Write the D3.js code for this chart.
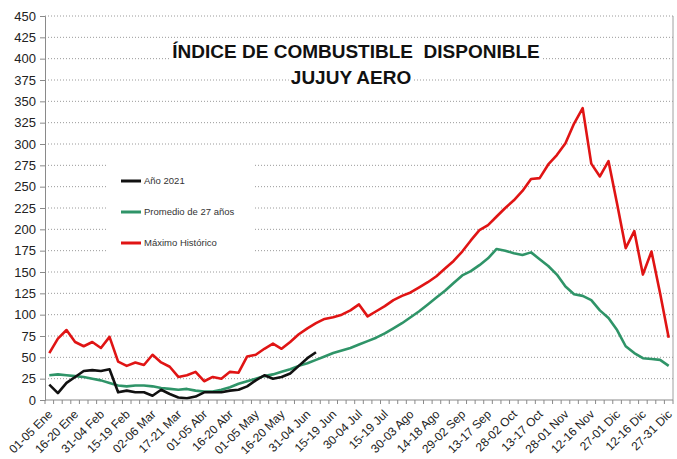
<!DOCTYPE html>
<html>
<head>
<meta charset="utf-8">
<script src="https://cdn.jsdelivr.net/npm/d3@7"></script>
<style>
  body { margin: 0; background: #fff; }
  svg { display: block; font-family: "Liberation Sans", Arial, sans-serif; }
</style>
</head>
<body>
<svg id="chart" width="677" height="459"></svg>
<script>
// pentadas del año (73)
const categories = [
  '01-05 Ene', '06-10 Ene', '11-15 Ene', '16-20 Ene', '21-25 Ene', '26-30 Ene',
  '31-04 Feb', '05-09 Feb', '10-14 Feb', '15-19 Feb', '20-24 Feb', '25-01 Mar',
  '02-06 Mar', '07-11 Mar', '12-16 Mar', '17-21 Mar', '22-26 Mar', '27-31 Mar',
  '01-05 Abr', '06-10 Abr', '11-15 Abr', '16-20 Abr', '21-25 Abr', '26-30 Abr',
  '01-05 May', '06-10 May', '11-15 May', '16-20 May', '21-25 May', '26-30 May',
  '31-04 Jun', '05-09 Jun', '10-14 Jun', '15-19 Jun', '20-24 Jun', '25-29 Jun',
  '30-04 Jul', '05-09 Jul', '10-14 Jul', '15-19 Jul', '20-24 Jul', '25-29 Jul',
  '30-03 Ago', '04-08 Ago', '09-13 Ago', '14-18 Ago', '19-23 Ago', '24-28 Ago',
  '29-02 Sep', '03-07 Sep', '08-12 Sep', '13-17 Sep', '18-22 Sep', '23-27 Sep',
  '28-02 Oct', '03-07 Oct', '08-12 Oct', '13-17 Oct', '18-22 Oct', '23-27 Oct',
  '28-01 Nov', '02-06 Nov', '07-11 Nov', '12-16 Nov', '17-21 Nov', '22-26 Nov',
  '27-01 Dic', '02-06 Dic', '07-11 Dic', '12-16 Dic', '17-21 Dic', '22-26 Dic',
  '27-31 Dic'
];

// solo se rotula una de cada tres pentadas
const tickLabels = categories.filter((d, i) => i % 3 === 0);
const yTicks = d3.range(0, 451, 25);

const anio2021 = [18, 8, 20, 27, 34, 35, 34, 36, 9, 11, 9, 9, 5, 12, 7, 3, 2, 4, 9, 9,
  9, 11, 12, 16, 23, 29, 25, 27, 31, 40, 49, 56];

const promedio = [29, 30, 29, 28, 27, 25, 23, 20, 17, 16, 17, 17, 16, 14, 13, 12, 13, 11, 10, 10,
  12, 15, 19, 22, 25, 28, 30, 33, 36, 40, 43, 47, 51, 55, 58, 61, 65, 69, 73, 78,
  84, 90, 97, 104, 112, 120, 128, 137, 146, 151, 158, 166, 177, 175, 172, 170, 173, 165, 157, 147,
  133, 124, 122, 117, 105, 96, 82, 63, 55, 49, 48, 47, 40];

const maximo = [55, 72, 82, 68, 63, 68, 61, 74, 45, 40, 44, 41, 53, 44, 39, 27, 29, 33, 22, 27,
  25, 33, 32, 51, 53, 60, 66, 60, 68, 77, 84, 90, 95, 97, 100, 105, 112, 98, 104, 110,
  117, 122, 126, 132, 138, 145, 154, 163, 174, 187, 199, 205, 215, 225, 234, 245, 259, 260, 276, 287,
  301, 324, 342, 277, 262, 280, 230, 178, 198, 147, 174, 125, 73];

const seriesNames = ['Año 2021', 'Promedio de 27 años', 'Máximo Histórico'];
const seriesColors = ['#111111', '#2f9468', '#e01414'];

const titleLines = ['ÍNDICE DE COMBUSTIBLE  DISPONIBLE', 'JUJUY AERO'];

const plot = { left: 45, right: 673, top: 16, bottom: 400 };
const svg = d3.select('#chart');

const x = d3.scaleBand()
  .domain(categories)
  .range([plot.left, plot.right])
  .padding(0);
const y = d3.scaleLinear()
  .domain([0, 450])
  .range([plot.bottom, plot.top]);
const cx = (c) => x(c) + x.bandwidth() / 2;

// líneas de grilla punteadas
svg.append('g')
  .selectAll('line')
  .data(yTicks.filter(d => d > 0))
  .enter().append('line')
    .attr('x1', plot.left)
    .attr('x2', plot.right)
    .attr('y1', d => y(d))
    .attr('y2', d => y(d))
    .attr('stroke', '#9a9a9a')
    .attr('stroke-width', 1)
    .attr('stroke-dasharray', '1,2');

// título con fondo blanco por renglón
const title = svg.append('g');
titleLines.forEach((t, i) => {
  const g = title.append('g');
  const txt = g.append('text')
    .attr('x', i === 0 ? 356 : 351)
    .attr('y', i === 0 ? 58 : 84)
    .attr('text-anchor', 'middle')
    .style('font-size', '19px')
    .style('font-weight', 'bold')
    .style('white-space', 'pre')
    .attr('fill', '#111')
    .text(t);
  const bb = txt.node().getBBox();
  g.insert('rect', 'text')
    .attr('x', bb.x - 2)
    .attr('y', bb.y)
    .attr('width', bb.width + 4)
    .attr('height', bb.height)
    .attr('fill', '#fff');
});

// leyenda
const legend = svg.append('g');
legend.append('rect')
  .attr('x', 107).attr('y', 150)
  .attr('width', 148).attr('height', 112)
  .attr('fill', '#fff');
const items = legend.selectAll('g')
  .data(seriesNames)
  .enter().append('g')
    .attr('transform', (d, i) => `translate(121, ${181 + i * 31})`);
items.append('line')
  .attr('x1', 0).attr('x2', 20)
  .attr('stroke', (d, i) => seriesColors[i])
  .attr('stroke-width', 3);
items.append('text')
  .attr('x', 23)
  .attr('dy', '0.35em')
  .style('font-size', '9.5px')
  .attr('fill', '#333')
  .text(d => d);

// series
const line = d3.line()
  .x((d, i) => cx(categories[i]))
  .y(d => y(d));

svg.append('g')
  .selectAll('path')
  .data([promedio, maximo, anio2021])
  .enter().append('path')
    .attr('d', line)
    .attr('fill', 'none')
    .attr('stroke', (d, i) => [seriesColors[1], seriesColors[2], seriesColors[0]][i])
    .attr('stroke-width', 2.6)
    .attr('stroke-linejoin', 'round');

// eje Y
const yAxis = svg.append('g')
  .attr('transform', `translate(${plot.left},0)`)
  .call(d3.axisLeft(y).tickValues(yTicks).tickSize(5).tickPadding(4));
yAxis.select('.domain').attr('stroke', '#8a8a8a');
yAxis.selectAll('.tick line').attr('stroke', '#8a8a8a');
yAxis.selectAll('.tick text')
  .style('font-size', '13px')
  .style('font-family', '"Liberation Sans", Arial, sans-serif')
  .attr('fill', '#222');

// borde derecho del área de trazado
svg.append('line')
  .attr('x1', plot.right).attr('x2', plot.right)
  .attr('y1', plot.top).attr('y2', plot.bottom)
  .attr('stroke', '#a0a0a0');

// eje X con marcas entre categorías
const xg = svg.append('g');
xg.append('line')
  .attr('x1', plot.left).attr('x2', plot.right)
  .attr('y1', plot.bottom).attr('y2', plot.bottom)
  .attr('stroke', '#8a8a8a');
xg.selectAll('.tk')
  .data(categories.map(c => x(c)).concat([plot.right]))
  .enter().append('line')
    .attr('class', 'tk')
    .attr('x1', d => d).attr('x2', d => d)
    .attr('y1', plot.bottom).attr('y2', plot.bottom + 4)
    .attr('stroke', '#8a8a8a');
xg.selectAll('text')
  .data(tickLabels)
  .enter().append('text')
    .attr('transform', d => `translate(${cx(d) - 2}, 409) rotate(-45)`)
    .attr('text-anchor', 'end')
    .attr('dy', '0.7em')
    .style('font-size', '12px')
    .attr('fill', '#222')
    .text(d => d);
</script>
</body>
</html>
